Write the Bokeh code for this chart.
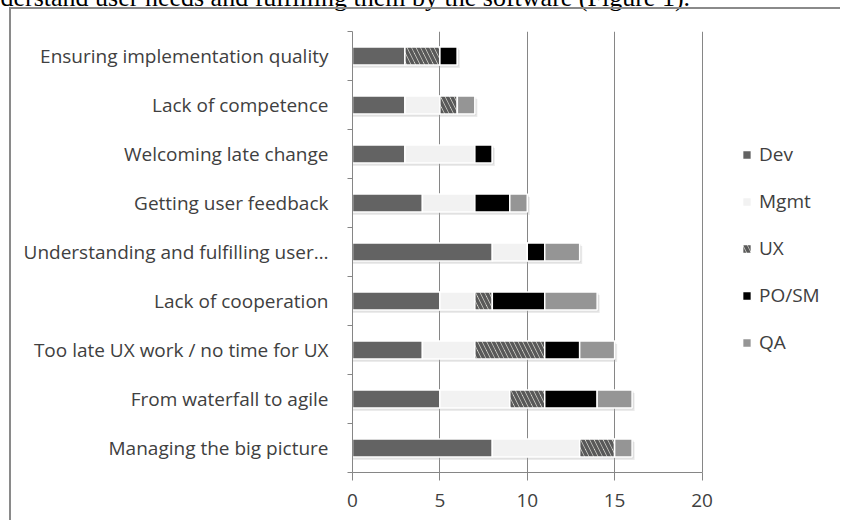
from bokeh.plotting import figure
from bokeh.models import ColumnDataSource, Range1d, FixedTicker, InlineStyleSheet
from bokeh.embed import file_html
from bokeh.resources import INLINE

# ---- data (bottom -> top) ----
categories = [
    "Managing the big picture",
    "From waterfall to agile",
    "Too late UX work / no time for UX",
    "Lack of cooperation",
    "Understanding and fulfilling user\u2026",
    "Getting user feedback",
    "Welcoming late change",
    "Lack of competence",
    "Ensuring implementation quality",
]
dev = [8, 5, 4, 5, 8, 4, 3, 3, 3]
mgmt = [5, 4, 3, 2, 2, 3, 4, 2, 0]
ux = [2, 2, 4, 1, 0, 0, 0, 1, 2]
posm = [0, 3, 2, 3, 1, 2, 1, 0, 1]
qa = [1, 2, 2, 3, 2, 1, 0, 1, 0]
series_names = ["Dev", "Mgmt", "UX", "PO/SM", "QA"]
x_ticks = [0, 5, 10, 15, 20]
caption = "derstand user needs and fulfilling them by the software (Figure 1)."

# ---- layout ----
K = 45                      # canvas starts K px above the page top (caption is cut)
PAGE_W, PAGE_H = 840, 520
W, H = PAGE_W, PAGE_H + K
FL, FR, FT, FB = 352, 830, 31 + K, 472 + K
PPU = (701.5 - 352) / 20.0   # pixels per x unit
x_end = (FR - FL) / PPU
n = len(categories)
PPC = (FB - FT) / n          # pixels per category

font = "Open Sans"
txt = "#404040"
axc = "#868686"

centers = [i + 0.5 for i in range(n)]
totals = [a + b + c + d + e for a, b, c, d, e in zip(dev, mgmt, ux, posm, qa)]
source = ColumnDataSource(dict(
    y=centers, dev=dev, mgmt=mgmt, ux=ux, posm=posm, qa=qa,
    y_sh=[c - 3.0 / PPC for c in centers],
    r_sh=[t + 2.5 / PPU for t in totals],
    y_sh2=[c - 1.5 / PPC for c in centers],
    r_sh2=[t + 1.5 / PPU for t in totals],
))

frame_css = InlineStyleSheet(css=f"""
:host {{ position: relative; }}
:host::after {{
  content: "";
  position: absolute;
  left: 9px; top: {K + 7}px; right: 0; bottom: 0;
  border-left: 2px solid #8a8a8a;
  border-top: 2px solid #8a8a8a;
  pointer-events: none;
}}
""")

p = figure(width=W, height=H, output_backend="svg", toolbar_location=None,
           x_range=Range1d(0, x_end), y_range=Range1d(0, n),
           min_border_left=FL, min_border_right=W - FR,
           min_border_top=FT, min_border_bottom=H - FB,
           margin=(-K, 0, 0, 0), stylesheets=[frame_css])
p.outline_line_color = None
p.background_fill_color = "white"
p.border_fill_color = "white"

# caption of the surrounding document (top half cut by the page edge)
p.title.text = caption
p.title.text_font = "Liberation Serif"
p.title.text_font_size = "26px"
p.title.text_font_style = "normal"
p.title.text_color = "black"
p.title.align = "left"
p.title.vertical_align = "top"
p.title.standoff = 36
p.title.offset = -FL

# grid
p.ygrid.grid_line_color = None
p.xgrid.ticker = FixedTicker(ticks=x_ticks)
p.xgrid.grid_line_color = axc
p.xgrid.grid_line_width = 1
p.xgrid.bounds = (0, 20)

# x axis
xa = p.xaxis[0]
xa.ticker = FixedTicker(ticks=x_ticks)
xa.bounds = (0, 20)
xa.axis_line_color = axc
xa.major_tick_line_color = axc
xa.major_tick_out = 8
xa.major_tick_in = 0
xa.minor_tick_line_color = None
xa.major_label_standoff = 13
xa.major_label_text_font = font
xa.major_label_text_font_size = "19px"
xa.major_label_text_color = txt

# y axis
ya = p.yaxis[0]
ya.ticker = FixedTicker(ticks=centers, minor_ticks=list(range(n + 1)))
ya.major_label_overrides = {c: name for c, name in zip(centers, categories)}
ya.axis_line_color = axc
ya.major_tick_line_color = None
ya.major_tick_out = 0
ya.major_tick_in = 0
ya.minor_tick_line_color = axc
ya.minor_tick_out = 5
ya.minor_tick_in = 0
ya.major_label_standoff = 19
ya.major_label_text_font = font
ya.major_label_text_font_size = "19px"
ya.major_label_text_color = txt

# shadows
p.hbar(y="y_sh", left=0, right="r_sh", height=0.37, source=source,
       fill_color="#b0b0b0", fill_alpha=0.25, line_color=None)
p.hbar(y="y_sh2", left=0, right="r_sh2", height=0.37, source=source,
       fill_color="#a0a0a0", fill_alpha=0.25, line_color=None)

# stacked bars
colors = ["#636363", "#f2f2f2", "#f7f7ef", "#000000", "#959595"]
rs = p.hbar_stack(["dev", "mgmt", "ux", "posm", "qa"], y="y", height=0.37,
                  source=source, fill_color=colors, line_color="white",
                  line_width=1.5, legend_label=series_names)
g = rs[2].glyph
g.hatch_pattern = "left_diagonal_line"
g.hatch_color = "#595959"
g.hatch_scale = 9
g.hatch_weight = 3.5

# legend
lg = p.legend[0]
lg.location = (389, 117)
lg.orientation = "vertical"
lg.glyph_width = 11
lg.glyph_height = 11
lg.label_height = 26
lg.spacing = 21
lg.padding = 0
lg.margin = 0
lg.label_standoff = 7
lg.border_line_color = None
lg.background_fill_alpha = 0
lg.label_text_font = font
lg.label_text_font_size = "19px"
lg.label_text_color = txt

open("out.html", "w").write(file_html(p, INLINE))
